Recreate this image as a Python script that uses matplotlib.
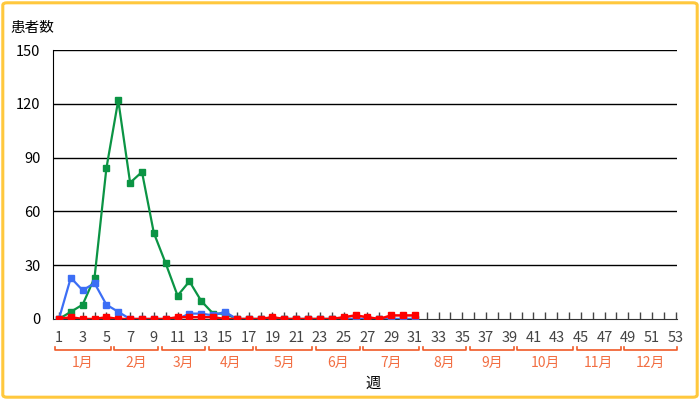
import matplotlib
matplotlib.use("Agg")
import matplotlib.pyplot as plt
from matplotlib.patches import FancyBboxPatch
from matplotlib.transforms import blended_transform_factory

plt.rcParams['font.family'] = ['Noto Sans CJK JP', 'DejaVu Sans']

# weekly patient counts (weeks 1-31 reported)
weeks = list(range(1, 32))
green_counts = [0, 4, 8, 23, 84, 122, 76, 82, 48, 31, 13, 21, 10, 3, 3, 0,
                0, 0, 0, 0, 0, 0, 0, 0, 0, 0, 0, 0, 0, 0, 0]
blue_counts = [0, 23, 16, 20, 8, 4, 0, 0, 0, 0, 0, 3, 3, 2, 4, 0,
               0, 0, 0, 0, 0, 0, 0, 0, 0, 0, 0, 0, 0, 0, 0]
red_counts = [0, 1, 0, 0, 1, 0, 0, 0, 0, 0, 1, 1, 1, 1, 0, 0,
              0, 0, 1, 0, 0, 0, 0, 0, 1, 2, 1, 0, 2, 2, 2]

month_labels = ['1月', '2月', '3月', '4月', '5月', '6月',
                '7月', '8月', '9月', '10月', '11月', '12月']
month_first_week = [1, 6, 10, 14, 18, 23, 27, 32, 36, 40, 45, 49]
last_week = 53

y_ticks = [0, 30, 60, 90, 120, 150]

fig = plt.figure(figsize=(7, 4), dpi=100)
ax = fig.add_axes([53 / 700, 81 / 400, 624 / 700, 269 / 400])

# outer frame
fig.patches.append(FancyBboxPatch((0.004, 0.007), 0.992, 0.986,
                                  boxstyle="round,pad=0,rounding_size=0.006",
                                  transform=fig.transFigure, fill=False,
                                  edgecolor='#ffc83d', linewidth=2.2))

# grid lines
for y in y_ticks[1:]:
    ax.axhline(y, color='black', linewidth=1, zorder=1)

# series
ax.plot(weeks, green_counts, color='#0b9444', marker='s', markersize=4.6,
        linewidth=1.6, zorder=3)
ax.plot(weeks, blue_counts, color='#3c6ef5', marker='s', markersize=4.6,
        linewidth=1.6, zorder=4)
ax.plot(weeks, red_counts, color='#ff0000', marker='s', markersize=4.6,
        linewidth=1.8, zorder=5)

ax.set_xlim(0.5, 53.1)
ax.set_ylim(0, 150)
ax.set_yticks(y_ticks)
ax.set_xticks(range(1, last_week + 1))
ax.set_xticklabels([str(w) if w % 2 == 1 else '' for w in range(1, last_week + 1)])

for s in ['top', 'right']:
    ax.spines[s].set_visible(False)
ax.spines['left'].set_color('black')
ax.spines['bottom'].set_color('#333333')

ax.tick_params(axis='x', direction='in', length=5, width=1, color='#444444',
               labelsize=10.5, labelcolor='#444444', pad=9)
ax.tick_params(axis='y', length=0, labelsize=10.5, labelcolor='black', pad=9)

# month brackets under the week labels
trans = blended_transform_factory(ax.transData, ax.transAxes)
ends = month_first_week[1:] + [last_week + 1]
for label, start, nxt in zip(month_labels, month_first_week, ends):
    x0 = start - 0.5 + 0.15
    x1 = min(nxt - 0.5 - 0.15, 53.1)
    ax.plot([x0, x0, x1, x1], [-0.104, -0.115, -0.115, -0.104], color='#f05a28',
            linewidth=1.2, transform=trans, clip_on=False)
    ax.text((x0 + x1) / 2, -0.163, label, color='#f26e42', fontsize=10,
            ha='center', va='center', transform=trans)

fig.text(373 / 700, 1 - 383 / 400, '週', fontsize=11, ha='center', va='center')
fig.text(10 / 700, 1 - 28 / 400, '患者数', fontsize=10.5, ha='left', va='center')

fig.savefig('out.png', dpi=100)
